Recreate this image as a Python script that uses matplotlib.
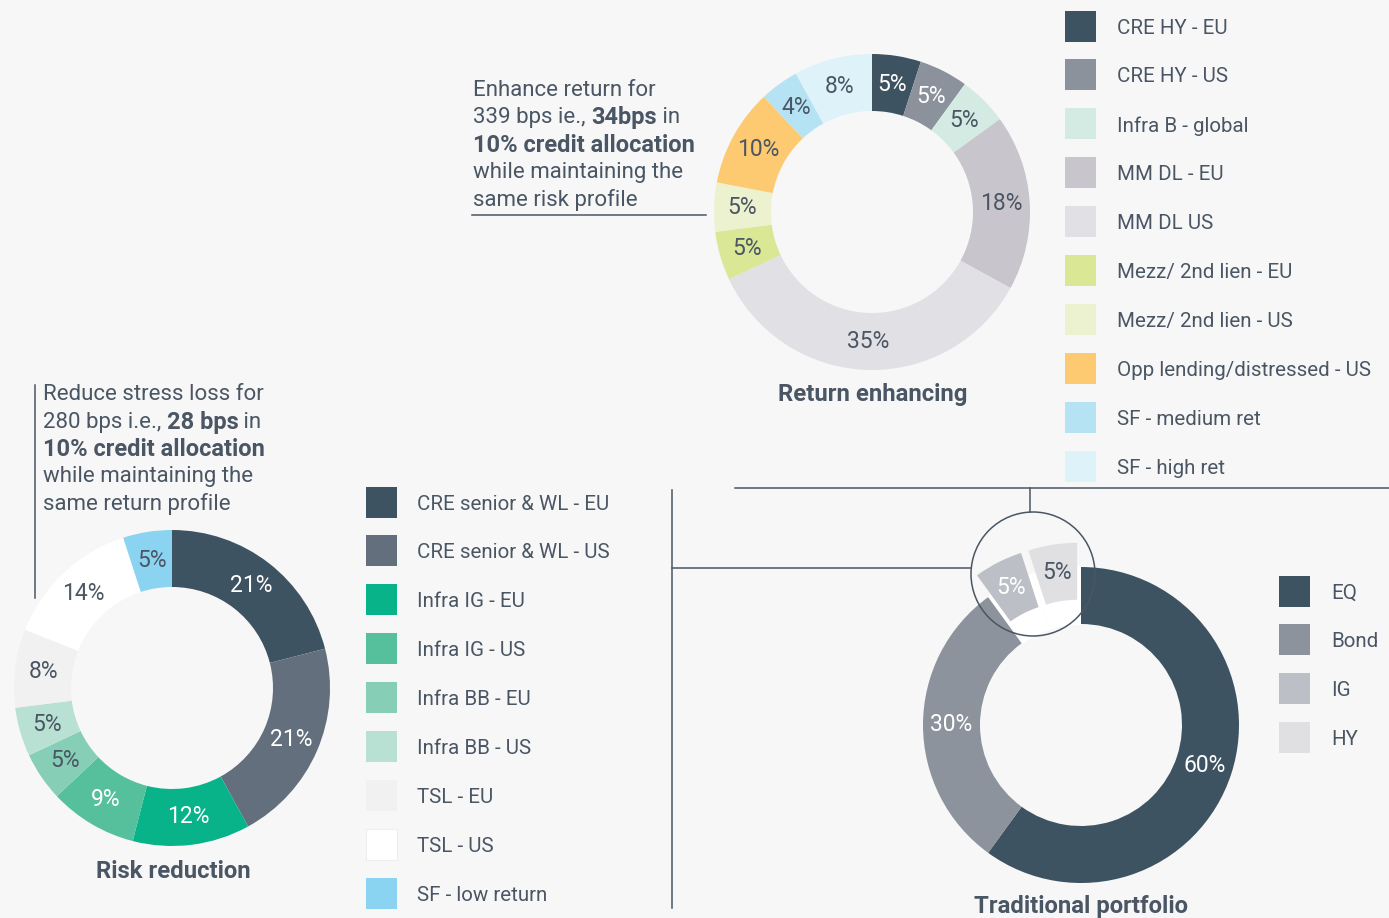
import matplotlib
matplotlib.use("Agg")
import matplotlib.pyplot as plt
from matplotlib.patches import Rectangle, Circle

# ---------------- data ----------------
ret_labels = ["CRE HY - EU", "CRE HY - US", "Infra B - global", "MM DL - EU", "MM DL US",
              "Mezz/ 2nd lien - EU", "Mezz/ 2nd lien - US", "Opp lending/distressed - US",
              "SF - medium ret", "SF - high ret"]
ret_values = [5, 5, 5, 18, 35, 5, 5, 10, 4, 8]
ret_colors = ["#3e5361", "#8c929c", "#d3ebe3", "#c8c6cc", "#e1e0e5",
              "#dae795", "#ecf2cf", "#fdca72", "#b6e3f4", "#ddf2f9"]
ret_white = [True, True, False, False, False, False, False, False, False, False]

risk_labels = ["CRE senior & WL - EU", "CRE senior & WL - US", "Infra IG - EU", "Infra IG - US",
               "Infra BB - EU", "Infra BB - US", "TSL - EU", "TSL - US", "SF - low return"]
risk_values = [21, 21, 12, 9, 5, 5, 8, 14, 5]
risk_colors = ["#3e5361", "#636f7c", "#08b38a", "#56c09c", "#86cfb6", "#b9e1d3",
               "#f1f1f1", "#ffffff", "#8bd4f1"]
risk_white = [True, True, True, True, False, False, False, False, False]

trad_labels = ["EQ", "Bond", "IG", "HY"]
trad_values = [60, 30, 5, 5]
trad_colors = ["#3e5361", "#8d939c", "#bdbfc6", "#e0e0e3"]
trad_white = [True, True, True, False]
trad_pulled = [False, False, True, True]

# ---------------- style ----------------
W, H = 1389, 918
BG = "#f7f7f7"
TXT = "#4a5664"
LINE = "#4a5664"
FONT = "Roboto"
plt.rcParams["font.family"] = [FONT, "DejaVu Sans"]

fig = plt.figure(figsize=(W / 100, H / 100), dpi=100, facecolor=BG)
ax = fig.add_axes([0, 0, 1, 1])
ax.set_facecolor(BG)


def Y(y):
    return H - y


R_OUT = 158
R_W = 57
LBL_FS = 16.5
PULL = 24.5


def donut(values, colors, whites, cx, cy, explode=None):
    wedges, _, autot = ax.pie(values, colors=colors, radius=R_OUT, center=(cx, Y(cy)),
                              startangle=90, counterclock=False, explode=explode,
                              autopct=lambda p: f"{p:.0f}%", pctdistance=0.82,
                              wedgeprops=dict(width=R_W, linewidth=0),
                              textprops=dict(fontsize=LBL_FS, family=FONT))
    for t, w in zip(autot, whites):
        t.set_color("white" if w else TXT)
    return wedges


# top donut
donut(ret_values, ret_colors, ret_white, 872, 212)
# left donut
donut(risk_values, risk_colors, risk_white, 172, 688)
# right donut: white slot then exploded wedges
slot_cols = ["white" if p else "none" for p in trad_pulled]
ax.pie(trad_values, colors=slot_cols, radius=R_OUT + 1, center=(1081, Y(725)),
       startangle=90, counterclock=False, wedgeprops=dict(width=R_W + 2, linewidth=0))
donut(trad_values, trad_colors, trad_white, 1081, 725,
      explode=[PULL if p else 0 for p in trad_pulled])

ax.set_xlim(0, W)
ax.set_ylim(0, H)
ax.set_aspect("equal")
ax.axis("off")

# magnifier circle and connector lines
ax.add_patch(Circle((1033, Y(574)), 62, fill=False, edgecolor=LINE, lw=1.1, zorder=5))
ax.plot([735, W], [Y(488), Y(488)], color=LINE, lw=1.1)
ax.plot([1030, 1030], [Y(488), Y(512)], color=LINE, lw=1.1)
ax.plot([672, 672], [Y(490), Y(908)], color=LINE, lw=1.1)
ax.plot([672, 971], [Y(568), Y(568)], color=LINE, lw=1.1)
ax.plot([472, 706], [Y(215), Y(215)], color=LINE, lw=1.1)
ax.plot([35, 35], [Y(385), Y(598)], color=LINE, lw=1.1)

# titles
TITLE_FS = 17.2
ax.text(873, Y(394), "Return enhancing", ha="center", va="center", fontsize=TITLE_FS,
        fontweight="bold", color=TXT)
ax.text(173, Y(872), "Risk reduction", ha="center", va="center", fontsize=TITLE_FS,
        fontweight="bold", color=TXT)
ax.text(1081, Y(907), "Traditional portfolio", ha="center", va="center", fontsize=TITLE_FS,
        fontweight="bold", color=TXT)

# legends
LEG_FS = 14.8


def legend(labels, colors, x, y0, dy, tx):
    for i, (lab, col) in enumerate(zip(labels, colors)):
        yc = y0 + i * dy
        ax.add_patch(Rectangle((x, Y(yc + 15.5)), 31, 31, facecolor=col,
                               edgecolor="#eeeeee" if col.lower() == "#ffffff" else "none", lw=0.8))
        ax.text(tx, Y(yc + 2), lab, ha="left", va="center", fontsize=LEG_FS, color=TXT)


legend(ret_labels, ret_colors, 1065, 26, 48.9, 1117)
legend(risk_labels, risk_colors, 366, 502, 48.9, 417)
legend(trad_labels, trad_colors, 1279, 591, 48.8, 1331)

# annotations with mixed weight
ANN_FS = 16.0
ANN_BFS = 17.0
renderer = fig.canvas.get_renderer()


def rich_line(x, y, parts):
    cur = x
    for txt, bold in parts:
        t = ax.text(cur, Y(y), txt, ha="left", va="center",
                    fontsize=ANN_BFS if bold else ANN_FS, color=TXT,
                    fontweight="bold" if bold else "normal")
        bb = t.get_window_extent(renderer=renderer)
        cur += bb.width * W / fig.bbox.width


top_ann = [
    [("Enhance return for", False)],
    [("339 bps ie., ", False), ("34bps", True), (" in", False)],
    [("10% credit allocation", True)],
    [("while maintaining the", False)],
    [("same risk profile", False)],
]
left_ann = [
    [("Reduce stress loss for", False)],
    [("280 bps i.e., ", False), ("28 bps", True), (" in", False)],
    [("10% credit allocation", True)],
    [("while maintaining the", False)],
    [("same return profile", False)],
]
for i, parts in enumerate(top_ann):
    rich_line(473, 90.5 + i * 27.3, parts)
for i, parts in enumerate(left_ann):
    rich_line(43, 395 + i * 27.2, parts)

fig.savefig("out.png", dpi=100, facecolor=BG)
